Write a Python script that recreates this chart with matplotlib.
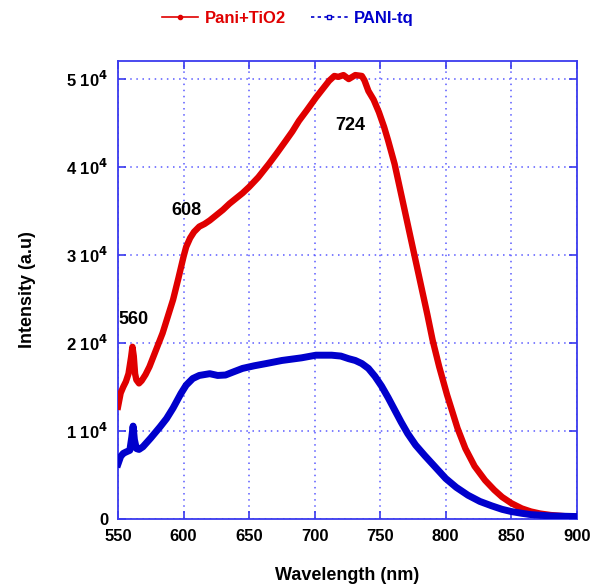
import matplotlib
matplotlib.use("Agg")
import matplotlib.pyplot as plt
from matplotlib.lines import Line2D

plt.rcParams['font.family'] = ['Liberation Sans', 'DejaVu Sans']
plt.rcParams['font.weight'] = 'bold'

# Pani+TiO2 spectrum
wl_tio2 = [550, 552, 554, 556, 558, 560, 561, 562, 563, 564, 566, 568, 571, 574, 579, 584, 588,
           592, 596, 600, 602, 605, 608, 612, 616, 620, 625, 630, 635, 640, 645, 650, 657,
           665, 671, 678, 683, 688, 694, 701, 706, 711, 715, 718, 722, 726, 731, 736, 738,
           741, 745, 749, 753, 756, 761, 767, 774, 780, 786, 790, 795, 801, 809, 815, 822, 830,
           837, 843, 850, 858, 865, 872, 880, 890, 900]
int_tio2 = [12750, 14300, 15000, 15600, 16500, 18400, 19550, 18500, 16500, 15800, 15400, 15700,
            16400, 17300, 19200, 21100, 23000, 24900, 27300, 29800, 30900, 31900, 32600, 33200,
            33500, 33900, 34500, 35100, 35800, 36400, 37000, 37700, 38800, 40300, 41500, 42950,
            44000, 45200, 46400, 47850, 48800, 49750, 50300, 50200, 50400, 49950, 50400, 50300,
            49800, 48600, 47600, 46200, 44500, 43000, 40300, 36200, 31400, 27300, 23200, 20300,
            17300, 14100, 10300, 8000, 6000, 4400, 3300, 2500, 1800, 1200, 850, 620, 450, 330, 250]

# PANI-tq spectrum
wl_tq = [550, 552, 554, 556, 559, 560.5, 561.5, 562.5, 564, 566, 569, 575, 582, 587, 592, 598,
         602, 607, 612, 620, 626, 632, 638, 645, 654, 663, 675, 690, 701, 713, 720, 726, 731,
         736, 741, 746, 751, 756, 761, 766, 771, 777, 784, 792, 800, 808, 817, 826, 835, 843,
         850, 858, 865, 880, 900]
int_tq = [6250, 7100, 7450, 7600, 7800, 9300, 10550, 9000, 8000, 7900, 8200, 9200, 10450, 11400,
          12600, 14250, 15200, 15950, 16300, 16500, 16300, 16350, 16700, 17100, 17400, 17650,
          18000, 18300, 18600, 18600, 18500, 18200, 18000, 17650, 17100, 16200, 15100, 13800,
          12400, 11000, 9700, 8400, 7200, 5900, 4600, 3600, 2700, 2000, 1500, 1100, 850, 650,
          500, 350, 280]

xticks = [550, 600, 650, 700, 750, 800, 850, 900]
yticks = [0, 10000, 20000, 30000, 40000, 50000]
ytick_labels = ['0', '1 10$^{4}$', '2 10$^{4}$', '3 10$^{4}$', '4 10$^{4}$', '5 10$^{4}$']

peaks = ['560', '608', '724']
peak_xy = [(562, 22700), (602, 35000), (727, 44700)]

red = '#e00000'
blue = '#0000cc'
frame = '#3a3aee'

fig = plt.figure(figsize=(5.91, 5.86), dpi=100)
ax = fig.add_axes([0.1997, 0.1143, 0.7763, 0.7816])

ax.plot(wl_tio2, int_tio2, color=red, lw=4.6, solid_joinstyle='round', zorder=3)
ax.plot(wl_tq, int_tq, color=blue, lw=5, solid_joinstyle='round', zorder=3)

ax.set_xlim(550, 900)
ax.set_ylim(0, 52000)
ax.set_xticks(xticks)
ax.set_xticklabels([str(t) for t in xticks])
ax.set_yticks(yticks)
ax.set_yticklabels(ytick_labels)

ax.grid(True, color='#5a5aff', linestyle=(0, (1, 3)), linewidth=1.1)
for s in ax.spines.values():
    s.set_color(frame)
    s.set_linewidth(1.3)
ax.tick_params(direction='in', color=frame, length=6, width=1.2,
               top=True, right=True, labelsize=12, pad=7)

ax.set_xlabel('Wavelength (nm)', fontsize=13, fontweight='bold', labelpad=17)
ax.set_ylabel('Intensity (a.u)', fontsize=13, fontweight='bold', labelpad=22)

for txt, (px, py) in zip(peaks, peak_xy):
    ax.text(px, py, txt, fontsize=13, fontweight='bold', ha='center', va='center')

handles = [
    Line2D([], [], color=red, lw=1.2, marker='o', markersize=3),
    Line2D([], [], color=blue, lw=1.2, linestyle=(0, (2, 2)), marker='s', markersize=3.5,
           markerfacecolor='white'),
]
leg = fig.legend(handles, ['Pani+TiO2', 'PANI-tq'], loc='center', bbox_to_anchor=(0.487, 0.968),
                 ncol=2, frameon=False, fontsize=12, handlelength=2.2, columnspacing=1.5,
                 handletextpad=0.4)
for t, c in zip(leg.get_texts(), [red, blue]):
    t.set_color(c)
    t.set_fontweight('bold')

fig.savefig('out.png', dpi=100)
